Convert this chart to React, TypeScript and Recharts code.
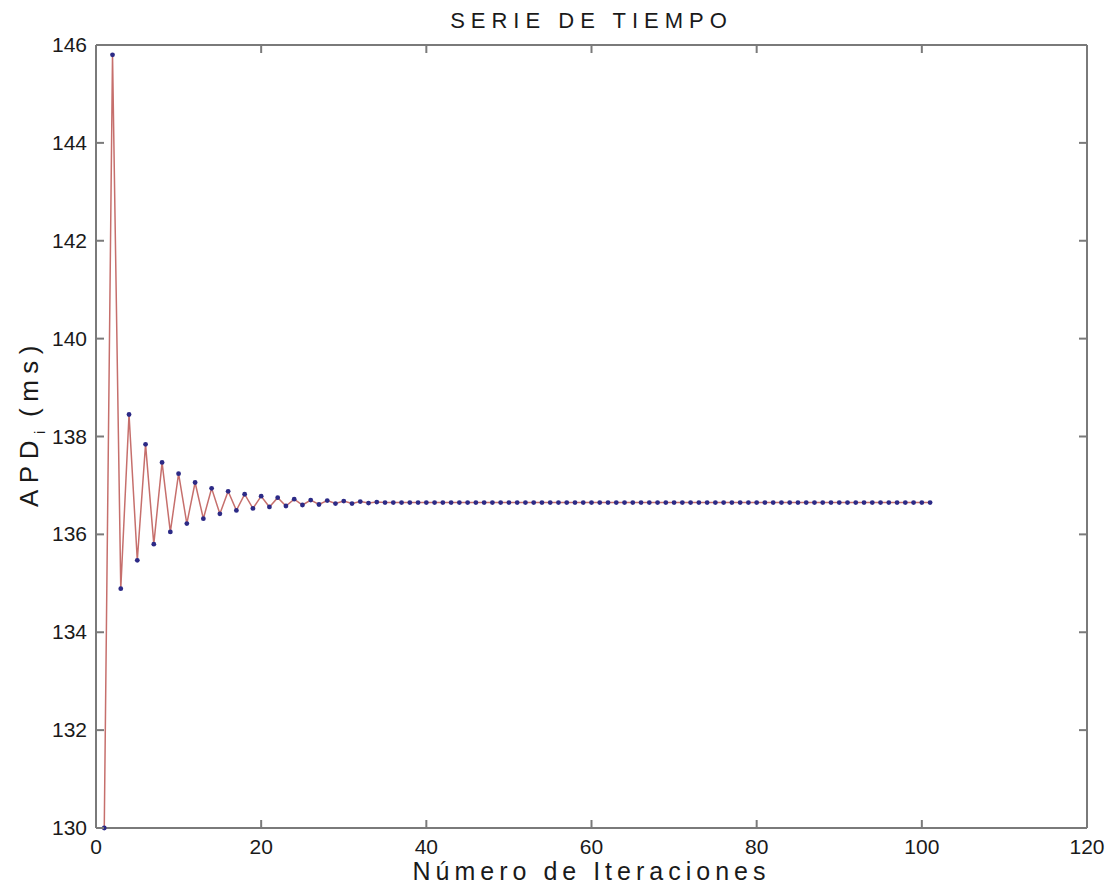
import React from 'react';
import { LineChart, Line, XAxis, YAxis } from 'recharts';

// APD_i (ms), iterations 1..101
const APD = [
  130.0, 145.8, 134.89, 138.45, 135.47, 137.84, 135.8, 137.47, 136.05, 137.24,
  136.22, 137.06, 136.32, 136.94, 136.42, 136.88, 136.49, 136.82, 136.53, 136.78,
  136.56, 136.75, 136.58, 136.72, 136.6, 136.7, 136.61, 136.69, 136.63, 136.68,
  136.63, 136.67, 136.64, 136.66, 136.65, 136.65, 136.65, 136.65, 136.65, 136.65,
  136.65, 136.65, 136.65, 136.65, 136.65, 136.65, 136.65, 136.65, 136.65, 136.65,
  136.65, 136.65, 136.65, 136.65, 136.65, 136.65, 136.65, 136.65, 136.65, 136.65,
  136.65, 136.65, 136.65, 136.65, 136.65, 136.65, 136.65, 136.65, 136.65, 136.65,
  136.65, 136.65, 136.65, 136.65, 136.65, 136.65, 136.65, 136.65, 136.65, 136.65,
  136.65, 136.65, 136.65, 136.65, 136.65, 136.65, 136.65, 136.65, 136.65, 136.65,
  136.65, 136.65, 136.65, 136.65, 136.65, 136.65, 136.65, 136.65, 136.65, 136.65,
  136.65,
];
const ITERATIONS = APD.map((_, i) => i + 1);

const X_TICKS = [0, 20, 40, 60, 80, 100, 120];
const Y_TICKS = [130, 132, 134, 136, 138, 140, 142, 144, 146];

const TITLE = 'SERIE DE TIEMPO';
const X_LABEL = 'Número de Iteraciones';

const FONT = '"Liberation Sans", Arial, sans-serif';
const AXIS = '#7a7a7a';
const TICK_LEN = 8;

const data = ITERATIONS.map((iter, i) => ({ iter, apd: APD[i] }));

// ticks point inward, MATLAB style
const BottomTick = (props: any) => {
  const { x, y, payload } = props;
  return (
    <g>
      <line x1={x} x2={x} y1={y} y2={y - TICK_LEN} stroke={AXIS} strokeWidth={2} />
      <text x={x} y={y + 26} textAnchor="middle" fontSize={21} fill="#1a1a1a" fontFamily={FONT}>
        {payload.value}
      </text>
    </g>
  );
};
const TopTick = (props: any) => {
  const { x, y } = props;
  return <line x1={x} x2={x} y1={y} y2={y + TICK_LEN} stroke={AXIS} strokeWidth={2} />;
};
const LeftTick = (props: any) => {
  const { x, y, payload } = props;
  return (
    <g>
      <line x1={x} x2={x + TICK_LEN} y1={y} y2={y} stroke={AXIS} strokeWidth={2} />
      <text x={x - 9} y={y + 7} textAnchor="end" fontSize={21} fill="#1a1a1a" fontFamily={FONT}>
        {payload.value}
      </text>
    </g>
  );
};
const RightTick = (props: any) => {
  const { x, y } = props;
  return <line x1={x} x2={x - TICK_LEN} y1={y} y2={y} stroke={AXIS} strokeWidth={2} />;
};

const App: React.FC = () => {
  return (
    <div style={{ position: 'absolute', left: 0, top: 0, width: 1111, height: 892, background: '#fff', fontFamily: FONT }}>
      <div style={{ position: 'absolute', left: 96, width: 991, top: 8, textAlign: 'center', fontSize: 22, letterSpacing: 6, color: '#1a1a1a' }}>
        {TITLE}
      </div>
      <div style={{ position: 'absolute', left: 96, width: 991, top: 857, textAlign: 'center', fontSize: 25, letterSpacing: 5, color: '#1a1a1a' }}>
        {X_LABEL}
      </div>
      <div style={{ position: 'absolute', left: 31, top: 423, width: 0, height: 0 }}>
        <div
          style={{
            position: 'absolute', transform: 'translate(-50%, -50%) rotate(-90deg)', whiteSpace: 'nowrap',
            fontSize: 26, letterSpacing: 6.5, color: '#1a1a1a',
          }}
        >
          APD<sub style={{ fontSize: 15, letterSpacing: 0 }}>i</sub> (ms)
        </div>
      </div>
      <LineChart width={1111} height={892} data={data} margin={{ top: 44, right: 23, bottom: 24, left: 36 }}>
        <XAxis
          xAxisId="bottom"
          dataKey="iter"
          type="number"
          domain={[0, 120]}
          ticks={X_TICKS}
          height={40}
          tickSize={0}
          tickMargin={0}
          tickLine={false}
          axisLine={{ stroke: AXIS, strokeWidth: 2 }}
          tick={<BottomTick />}
        />
        <XAxis
          xAxisId="top"
          orientation="top"
          dataKey="iter"
          type="number"
          domain={[0, 120]}
          ticks={X_TICKS}
          height={1}
          tickSize={0}
          tickMargin={0}
          tickLine={false}
          axisLine={{ stroke: AXIS, strokeWidth: 2 }}
          tick={<TopTick />}
        />
        <YAxis
          yAxisId="left"
          type="number"
          domain={[130, 146]}
          ticks={Y_TICKS}
          width={60}
          tickSize={0}
          tickMargin={0}
          tickLine={false}
          axisLine={{ stroke: AXIS, strokeWidth: 2 }}
          tick={<LeftTick />}
        />
        <YAxis
          yAxisId="right"
          orientation="right"
          type="number"
          domain={[130, 146]}
          ticks={Y_TICKS}
          width={1}
          tickSize={0}
          tickMargin={0}
          tickLine={false}
          axisLine={{ stroke: AXIS, strokeWidth: 2 }}
          tick={<RightTick />}
        />
        <Line
          xAxisId="top"
          yAxisId="right"
          dataKey="apd"
          stroke="none"
          dot={false}
          activeDot={false}
          legendType="none"
          isAnimationActive={false}
        />
        <Line
          xAxisId="bottom"
          yAxisId="left"
          dataKey="apd"
          type="linear"
          stroke="#c66f6c"
          strokeWidth={1.5}
          dot={{ r: 2.4, fill: '#2c2a86', stroke: 'none', strokeWidth: 0 }}
          activeDot={false}
          isAnimationActive={false}
        />
      </LineChart>
    </div>
  );
};

export default App;
